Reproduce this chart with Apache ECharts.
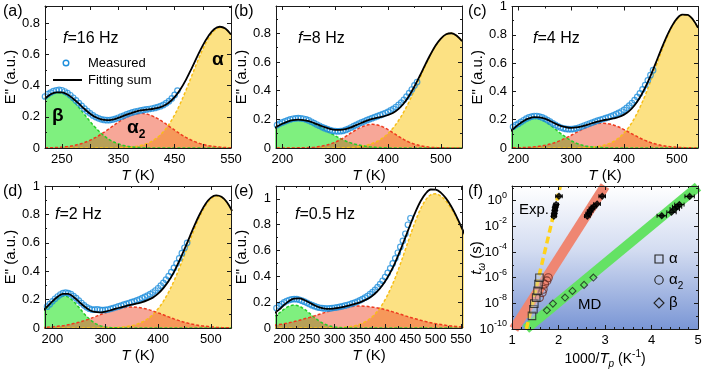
<!DOCTYPE html>
<html lang="en">
<head>
<meta charset="UTF-8">
<title>Loss modulus fits and relaxation map</title>
<style>
  html, body { margin: 0; padding: 0; background: #fff; }
  #main { width: 706px; height: 374px; }
</style>
</head>
<body>
<div id="main"></div>
<script src="https://cdn.jsdelivr.net/npm/echarts@6/dist/echarts.min.js"></script>
<script>
// ---------- panel (a) f=16 Hz ----------
var tA = [220,230,240,250,260,270,280,290,300,310,320,330,340,350,360,370,380,390,400,410,420,430,440,450,460,470,480,490,500,510,520,530,540,550];
var betaA = [0.315,0.342,0.354,0.351,0.333,0.301,0.260,0.215,0.170,0.129,0.093,0.064,0.042,0.027,0.016,0.009,0.005,0.003,0.001,0,0,0,0,0,0,0,0,0,0,0,0,0,0,0];
var alpha2A = [0.001,0.002,0.003,0.006,0.010,0.015,0.024,0.035,0.050,0.068,0.090,0.114,0.140,0.165,0.188,0.206,0.218,0.222,0.218,0.206,0.188,0.165,0.140,0.114,0.090,0.068,0.050,0.035,0.024,0.015,0.010,0.006,0.003,0.002];
var alphaA = [0,0,0,0,0,0,0,0,0,0,0,0,0,0.001,0.003,0.005,0.009,0.016,0.027,0.044,0.069,0.104,0.152,0.212,0.285,0.369,0.459,0.550,0.634,0.703,0.751,0.771,0.763,0.725];
var sumA = [0.316,0.344,0.357,0.357,0.343,0.316,0.284,0.250,0.220,0.197,0.183,0.178,0.182,0.193,0.207,0.220,0.232,0.241,0.246,0.250,0.257,0.269,0.292,0.326,0.375,0.437,0.509,0.585,0.658,0.718,0.761,0.777,0.766,0.727];
var mtA = [220,225,230,235,240,245,250,255,260,265,270,275,280,285,290,295,300,305,310,315,320,325,330,335,340,345,350,355,360,365,370,375,380,385,390,395,400,405,410,415,420,425,430,435,440,445,450,455];
var measA = [0.33,0.345,0.355,0.365,0.37,0.372,0.37,0.362,0.352,0.338,0.322,0.305,0.288,0.27,0.252,0.236,0.222,0.209,0.198,0.19,0.184,0.18,0.178,0.179,0.182,0.187,0.194,0.201,0.208,0.215,0.222,0.228,0.233,0.237,0.241,0.244,0.247,0.25,0.253,0.257,0.262,0.268,0.276,0.287,0.3,0.318,0.34,0.368];
var tickLabelsA = [250, 350, 450, 550];

// ---------- panels (b), (c), (d) share the temperature grid ----------
var tBCD = [180,190,200,210,220,230,240,250,260,270,280,290,300,310,320,330,340,350,360,370,380,390,400,410,420,430,440,450,460,470,480,490,500,510,520,530,540];
var mtBCD = [190,195,200,205,210,215,220,225,230,235,240,245,250,255,260,265,270,275,280,285,290,295,300,305,310,315,320,325,330,335,340,345,350,355,360,365,370,375,380,385,390,395,400,405,410,415,420,425,430,435,440,445,450,455];

// (b) f=8 Hz
var betaB = [0.128,0.150,0.169,0.184,0.194,0.197,0.194,0.184,0.169,0.150,0.128,0.106,0.085,0.066,0.049,0.035,0.025,0.017,0.011,0.007,0.004,0.002,0.001,0,0,0,0,0,0,0,0,0,0,0,0,0,0];
var alpha2B = [0,0,0,0,0,0.001,0.001,0.003,0.005,0.010,0.017,0.027,0.041,0.059,0.081,0.105,0.128,0.147,0.160,0.165,0.160,0.147,0.128,0.105,0.081,0.059,0.041,0.027,0.017,0.010,0.005,0.003,0.001,0.001,0,0,0];
var alphaB = [0,0,0,0,0,0,0,0,0,0,0,0,0,0.001,0.002,0.004,0.007,0.012,0.020,0.031,0.047,0.070,0.101,0.141,0.192,0.253,0.324,0.402,0.485,0.568,0.645,0.712,0.762,0.792,0.800,0.783,0.745];
var sumB = [0.128,0.150,0.169,0.184,0.194,0.198,0.195,0.187,0.174,0.160,0.145,0.133,0.126,0.126,0.132,0.144,0.160,0.176,0.191,0.203,0.211,0.219,0.230,0.246,0.273,0.312,0.365,0.429,0.502,0.578,0.650,0.715,0.763,0.793,0.800,0.783,0.745];
var measB = [0.16,0.17,0.178,0.186,0.193,0.199,0.204,0.207,0.208,0.207,0.204,0.199,0.192,0.183,0.174,0.164,0.155,0.146,0.138,0.131,0.125,0.12,0.117,0.116,0.117,0.12,0.126,0.134,0.143,0.152,0.161,0.17,0.178,0.186,0.194,0.201,0.208,0.215,0.222,0.229,0.236,0.244,0.252,0.262,0.273,0.286,0.3,0.317,0.336,0.358,0.382,0.408,0.436,0.46];

// (c) f=4 Hz
var betaC = [0.103,0.133,0.163,0.188,0.204,0.210,0.204,0.188,0.163,0.133,0.103,0.076,0.052,0.034,0.021,0.012,0.007,0.004,0.002,0.001,0,0,0,0,0,0,0,0,0,0,0,0,0,0,0,0,0];
var alpha2C = [0,0.001,0.002,0.003,0.005,0.008,0.012,0.019,0.028,0.039,0.054,0.071,0.090,0.110,0.130,0.148,0.163,0.172,0.175,0.172,0.163,0.148,0.130,0.110,0.090,0.071,0.054,0.039,0.028,0.019,0.012,0.008,0.005,0.003,0.002,0.001,0];
var alphaC = [0,0,0,0,0,0,0,0,0,0,0,0,0,0.001,0.002,0.003,0.006,0.010,0.018,0.029,0.046,0.071,0.106,0.152,0.212,0.286,0.372,0.469,0.572,0.675,0.770,0.850,0.909,0.939,0.939,0.909,0.850];
var sumC = [0.103,0.134,0.165,0.191,0.209,0.218,0.216,0.207,0.191,0.172,0.157,0.147,0.142,0.145,0.153,0.163,0.176,0.186,0.195,0.202,0.209,0.219,0.236,0.262,0.302,0.357,0.426,0.508,0.600,0.694,0.782,0.858,0.914,0.942,0.941,0.910,0.850];
var measC = [0.15,0.162,0.172,0.184,0.196,0.207,0.216,0.222,0.226,0.226,0.222,0.216,0.207,0.197,0.186,0.174,0.163,0.153,0.145,0.139,0.135,0.133,0.133,0.135,0.139,0.145,0.152,0.159,0.166,0.173,0.18,0.187,0.193,0.199,0.205,0.211,0.217,0.224,0.231,0.239,0.248,0.258,0.27,0.284,0.3,0.318,0.338,0.361,0.386,0.414,0.445,0.478,0.515,0.55];

// (d) f=2 Hz
var betaD = [0.110,0.145,0.180,0.208,0.225,0.217,0.188,0.146,0.101,0.063,0.035,0.017,0.008,0.003,0.001,0,0,0,0,0,0,0,0,0,0,0,0,0,0,0,0,0,0,0,0,0,0];
var alpha2D = [0.003,0.005,0.008,0.012,0.016,0.023,0.031,0.040,0.052,0.064,0.078,0.093,0.107,0.120,0.132,0.140,0.146,0.148,0.146,0.140,0.132,0.120,0.107,0.093,0.078,0.064,0.052,0.040,0.031,0.023,0.016,0.012,0.008,0.005,0.003,0.002,0.001];
var alphaD = [0,0,0,0,0,0,0,0,0,0,0,0,0.001,0.002,0.003,0.006,0.010,0.016,0.027,0.042,0.064,0.094,0.135,0.188,0.253,0.330,0.419,0.515,0.613,0.709,0.794,0.863,0.910,0.929,0.921,0.885,0.824];
var sumD = [0.113,0.150,0.188,0.220,0.241,0.240,0.219,0.186,0.153,0.127,0.113,0.110,0.116,0.125,0.136,0.146,0.156,0.164,0.173,0.182,0.196,0.214,0.242,0.281,0.331,0.394,0.471,0.555,0.644,0.732,0.810,0.875,0.918,0.934,0.924,0.887,0.825];
var measD = [0.15,0.168,0.188,0.206,0.222,0.236,0.245,0.249,0.246,0.238,0.225,0.21,0.193,0.176,0.16,0.146,0.136,0.13,0.13,0.132,0.128,0.126,0.127,0.13,0.135,0.14,0.146,0.152,0.158,0.164,0.17,0.176,0.182,0.188,0.195,0.202,0.21,0.219,0.228,0.238,0.25,0.264,0.28,0.298,0.318,0.34,0.365,0.393,0.423,0.455,0.49,0.527,0.565,0.6];

// ---------- panel (e) f=0.5 Hz ----------
var tE = [180,190,200,210,220,230,240,250,260,270,280,290,300,310,320,330,340,350,360,370,380,390,400,410,420,430,440,450,460,470,480,490,500,510,520,530,540,550,560];
var betaE = [0.090,0.115,0.146,0.169,0.178,0.169,0.146,0.115,0.082,0.053,0.031,0.016,0.008,0.003,0.001,0,0,0,0,0,0,0,0,0,0,0,0,0,0,0,0,0,0,0,0,0,0,0,0];
var alpha2E = [0.021,0.027,0.033,0.041,0.050,0.060,0.071,0.082,0.094,0.107,0.119,0.131,0.142,0.151,0.159,0.165,0.169,0.170,0.169,0.165,0.159,0.151,0.142,0.131,0.119,0.107,0.094,0.082,0.071,0.060,0.050,0.041,0.033,0.027,0.021,0.016,0.012,0.009,0.007];
var alphaE = [0,0,0,0,0,0,0,0,0,0,0,0.001,0.002,0.003,0.006,0.010,0.018,0.029,0.047,0.072,0.108,0.157,0.220,0.298,0.390,0.495,0.608,0.722,0.829,0.922,0.991,1.032,1.039,1.022,0.985,0.931,0.861,0.781,0.694];
var sumE = [0.111,0.142,0.179,0.210,0.228,0.229,0.217,0.197,0.176,0.160,0.150,0.148,0.152,0.157,0.166,0.175,0.187,0.199,0.216,0.237,0.267,0.308,0.362,0.429,0.509,0.602,0.702,0.804,0.900,0.982,1.041,1.073,1.072,1.049,1.006,0.947,0.873,0.790,0.701];
var mtE = [185,190,195,200,205,210,215,220,225,230,235,240,245,250,255,260,265,270,275,280,285,290,295,300,305,310,315,320,325,330,335,340,345,350,355,360,365,370,375,380,385,390,395,400,405,410,415,420,425,430,435,440,445,450];
var measE = [0.155,0.17,0.185,0.198,0.209,0.217,0.222,0.224,0.223,0.219,0.212,0.204,0.195,0.186,0.177,0.169,0.162,0.157,0.154,0.152,0.151,0.152,0.154,0.157,0.16,0.164,0.168,0.173,0.178,0.184,0.19,0.197,0.205,0.214,0.224,0.235,0.248,0.262,0.278,0.296,0.317,0.34,0.366,0.395,0.427,0.462,0.5,0.54,0.583,0.628,0.675,0.73,0.8,0.85];

// ---------- panel (f): 1000/Tp vs log10(t) ----------
var redBandX = [1.04, 3.0];      var redBandY = [-10, 1.15];
var greenBandX = [1.3, 5.0];     var greenBandY = [-10, 1.1];
var yellowLineX = [1.31, 2.04];  var yellowLineY = [-10, 1.15];

var expAlphaX = [1.90, 1.91, 1.92, 1.93, 1.95, 2.01];
var expAlphaY = [-1.2, -1.0, -0.75, -0.5, -0.3, 0.35];
var expAlphaErr = [0.05, 0.05, 0.05, 0.05, 0.05, 0.07];
var expAlpha2X = [2.62, 2.65, 2.68, 2.72, 2.76, 2.83, 2.94];
var expAlpha2Y = [-1.2, -1.0, -0.8, -0.6, -0.45, -0.25, 0.35];
var expAlpha2Err = [0.06, 0.06, 0.06, 0.06, 0.06, 0.07, 0.07];
var expBetaX = [4.22, 4.43, 4.50, 4.55, 4.60, 4.82];
var expBetaY = [-1.17, -0.9, -0.65, -0.47, -0.3, 0.34];
var expBetaErr = [0.1, 0.1, 0.1, 0.1, 0.1, 0.1];

var mdAlphaX = [1.43, 1.46, 1.48, 1.52, 1.55, 1.57, 1.59];
var mdAlphaY = [-8.98, -8.46, -8.02, -7.55, -7.03, -6.5, -6.0];
var mdAlpha2X = [1.59, 1.65, 1.67, 1.70, 1.75, 1.78];
var mdAlpha2Y = [-7.55, -7.16, -6.9, -6.5, -6.25, -6.0];
var mdBetaX = [1.75, 1.88, 2.14, 2.30, 2.55, 2.75];
var mdBetaY = [-8.54, -8.02, -7.55, -7.03, -6.56, -5.99];

var freqLabels = ['16', '8', '4', '2', '0.5'];

// ---------- styling ----------
var FONT = '"Liberation Sans", Arial, sans-serif';
var INK = '#1a1a1a';
var BLUE = '#1f8fdc';

function zip(xs, ys) { return xs.map(function (x, k) { return [x, ys[k]]; }); }
function zip3(xs, ys, es) { return xs.map(function (x, k) { return [x, ys[k], es[k]]; }); }

var panels = [
  {left: 45,  top: 6,   xMin: 220, xMax: 550, xIv: 50,  xLabels: tickLabelsA, yMax: 0.91, t: tA,   beta: betaA, a2: alpha2A, alpha: alphaA, fit: sumA, mt: mtA,   meas: measA},
  {left: 276, top: 6,   xMin: 188, xMax: 540, xIv: 100, yMax: 0.99, t: tBCD, beta: betaB, a2: alpha2B, alpha: alphaB, fit: sumB, mt: mtBCD, meas: measB},
  {left: 512, top: 6,   xMin: 188, xMax: 540, xIv: 100, yMax: 1.0,  t: tBCD, beta: betaC, a2: alpha2C, alpha: alphaC, fit: sumC, mt: mtBCD, meas: measC},
  {left: 45,  top: 186, xMin: 186, xMax: 538, xIv: 100, yMax: 1.0,  t: tBCD, beta: betaD, a2: alpha2D, alpha: alphaD, fit: sumD, mt: mtBCD, meas: measD},
  {left: 276, top: 186, xMin: 184, xMax: 552, xIv: 50,  yMax: 1.1,  t: tE,   beta: betaE, a2: alpha2E, alpha: alphaE, fit: sumE, mt: mtE,   meas: measE}
];

var nameStyle = {
  color: '#000', fontSize: 15, fontFamily: FONT,
  rich: {
    i: {fontStyle: 'italic', fontSize: 15, fontFamily: FONT, color: '#000'},
    sub: {fontStyle: 'italic', fontSize: 10, fontFamily: FONT, color: '#000', verticalAlign: 'bottom', lineHeight: 20},
    sup: {fontSize: 10, fontFamily: FONT, color: '#000', verticalAlign: 'top', lineHeight: 20}
  }
};

function frameAxis(o) {
  return Object.assign({
    type: 'value',
    z: 10,
    splitLine: {show: false},
    axisLine: {show: true, onZero: false, lineStyle: {color: INK, width: 1}},
    axisTick: {show: true, inside: true, length: 4, lineStyle: {color: INK}},
    minorTick: {show: true, splitNumber: 2, length: 2, lineStyle: {color: INK}},
    axisLabel: {show: false}
  }, o);
}

function tickLabel(showMin, showMax, extra) {
  return Object.assign({
    show: true, color: '#000', fontSize: 13, fontFamily: FONT, margin: 5,
    showMinLabel: showMin, showMaxLabel: showMax
  }, extra || {});
}

var grids = [], xAxes = [], yAxes = [], series = [];

panels.forEach(function (p, i) {
  grids.push({left: p.left, top: p.top, width: 186, height: 142});
  var xr = {gridIndex: i, min: p.xMin, max: p.xMax, minInterval: p.xIv, maxInterval: p.xIv};
  if (p.xLabels) xr.minorTick = {show: false};
  var yr = {gridIndex: i, min: 0, max: p.yMax, minInterval: 0.2, maxInterval: 0.2};
  var xl = p.xLabels
    ? tickLabel(false, true, {formatter: function (v) { return p.xLabels.indexOf(v) >= 0 ? String(v) : ''; }})
    : tickLabel(p.xMin % p.xIv === 0, p.xMax % p.xIv === 0);
  xAxes.push(frameAxis(Object.assign({
    position: 'bottom', axisLabel: xl,
    name: '{i|T} (K)', nameLocation: 'middle', nameGap: 20, nameTextStyle: nameStyle
  }, xr)));
  xAxes.push(frameAxis(Object.assign({position: 'top'}, xr)));
  yAxes.push(frameAxis(Object.assign({
    position: 'left',
    axisLabel: tickLabel(true, Math.abs(p.yMax / 0.2 - Math.round(p.yMax / 0.2)) < 1e-6),
    name: 'E" (a.u.)', nameLocation: 'middle', nameGap: 25, nameTextStyle: nameStyle
  }, yr)));
  yAxes.push(frameAxis(Object.assign({position: 'right'}, yr)));

  var ax = {xAxisIndex: 2 * i, yAxisIndex: 2 * i};
  function peak(vals, line, fill, op) {
    return Object.assign({
      type: 'line', data: zip(p.t, vals), smooth: 0.35, symbol: 'none', silent: true, z: 3,
      lineStyle: {color: line, width: 1.5, type: [3, 2]},
      areaStyle: {color: fill, opacity: op}
    }, ax);
  }
  series.push(peak(p.alpha, '#f7be17', 'rgb(250,200,30)', 0.55));
  series.push(peak(p.beta, '#28cc28', 'rgb(0,225,0)', 0.5));
  series.push(peak(p.a2, '#ee3a1e', 'rgb(240,80,50)', 0.5));
  series.push(Object.assign({
    type: 'scatter', data: zip(p.mt, p.meas), symbol: 'circle', symbolSize: 5.5, silent: true, z: 4,
    itemStyle: {color: 'rgba(255,255,255,0)', borderColor: BLUE, borderWidth: 1.2}
  }, ax));
  series.push(Object.assign({
    type: 'line', data: zip(p.t, p.fit), smooth: 0.35, symbol: 'none', silent: true, z: 5,
    lineStyle: {color: '#000', width: 1.8}
  }, ax));
});

// panel (f)
grids.push({
  left: 512, top: 186, width: 186, height: 143, show: true, borderWidth: 0,
  backgroundColor: {type: 'linear', x: 0, y: 0, x2: 0, y2: 1,
    colorStops: [{offset: 0, color: '#ffffff'}, {offset: 0.45, color: '#d3dcf1'}, {offset: 1, color: '#7a96d5'}]}
});
var fx = {gridIndex: 5, min: 1, max: 5, minInterval: 1, maxInterval: 1, minorTick: {show: true, splitNumber: 5, length: 2, lineStyle: {color: INK}}};
var fy = {gridIndex: 5, min: -10, max: 1.15, minInterval: 2, maxInterval: 2};
xAxes.push(frameAxis(Object.assign({
  position: 'bottom', axisLabel: tickLabel(true, true),
  name: '1000/{i|T}{sub|p} (K{sup|-1})', nameLocation: 'middle', nameGap: 20,
  nameTextStyle: Object.assign({}, nameStyle, {fontSize: 14})
}, fx)));
xAxes.push(frameAxis(Object.assign({position: 'top'}, fx)));
yAxes.push(frameAxis(Object.assign({
  position: 'left',
  axisLabel: tickLabel(true, false, {
    formatter: function (v) {
      var r = Math.round(v);
      if (Math.abs(v - r) > 1e-6 || r % 2 !== 0) return '';
      return '10{s|' + r + '}';
    },
    rich: {s: {fontSize: 9, fontFamily: FONT, color: '#000', verticalAlign: 'top', lineHeight: 20}}
  })
}, fy)));
yAxes.push(frameAxis(Object.assign({position: 'right'}, fy)));

var fax = {xAxisIndex: 10, yAxisIndex: 10};
function band(xs, ys, color, width, type) {
  return Object.assign({
    type: 'line', data: zip(xs, ys), symbol: 'none', silent: true, z: 2,
    lineStyle: {color: color, width: width, type: type || 'solid', cap: 'butt'}
  }, fax);
}
series.push(band(redBandX, redBandY, '#ef8672', 10));
series.push(band(greenBandX, greenBandY, '#64e264', 10));
series.push(band(yellowLineX, yellowLineY, '#ffd21a', 3.5, [7, 4]));

function errBars(xs, ys, es) {
  return Object.assign({
    type: 'custom', data: zip3(xs, ys, es), silent: true, z: 6, encode: {x: 0, y: 1},
    renderItem: function (params, api) {
      var x = api.value(0), y = api.value(1), e = api.value(2);
      var a = api.coord([x - e, y]), b = api.coord([x + e, y]);
      var st = {stroke: '#000', lineWidth: 1};
      return {type: 'group', children: [
        {type: 'line', shape: {x1: a[0], y1: a[1], x2: b[0], y2: b[1]}, style: st},
        {type: 'line', shape: {x1: a[0], y1: a[1] - 2, x2: a[0], y2: a[1] + 2}, style: st},
        {type: 'line', shape: {x1: b[0], y1: b[1] - 2, x2: b[0], y2: b[1] + 2}, style: st}
      ]};
    }
  }, fax);
}
function pts(xs, ys, symbol, size, fill, stroke, z) {
  return Object.assign({
    type: 'scatter', data: zip(xs, ys), symbol: symbol, symbolSize: size, silent: true, z: z || 7,
    itemStyle: {color: fill, borderColor: stroke, borderWidth: 1.1}
  }, fax);
}
series.push(errBars(expAlphaX, expAlphaY, expAlphaErr));
series.push(errBars(expAlpha2X, expAlpha2Y, expAlpha2Err));
series.push(errBars(expBetaX, expBetaY, expBetaErr));
series.push(pts(expAlphaX, expAlphaY, 'diamond', 6, '#000', '#000'));
series.push(pts(expAlpha2X, expAlpha2Y, 'diamond', 6, '#000', '#000'));
series.push(pts(expBetaX, expBetaY, 'diamond', 6, '#000', '#000'));
series.push(pts(mdBetaX, mdBetaY, 'diamond', 7, 'rgba(0,0,0,0)', '#1d2b1d'));
series.push(pts(mdAlpha2X, mdAlpha2Y, 'circle', 8, 'rgba(0,0,0,0)', '#6b2a22'));
series.push(pts(mdAlphaX, mdAlphaY, 'rect', 7.5, 'rgba(200,208,222,0.45)', '#222', 8));

// ---------- annotations ----------
var g = [];
function label(x, y, text, size, extra, rotation) {
  g.push({type: 'text', x: x, y: y, rotation: rotation || 0, z: 100, silent: true, style: Object.assign({
    text: text, fill: '#000', fontSize: size, fontFamily: FONT, align: 'left', verticalAlign: 'middle'
  }, extra || {})});
}
['(a)', '(b)', '(c)', '(d)', '(e)', '(f)'].forEach(function (s, k) {
  label([3, 234, 468][k % 3], k < 3 ? 12 : 192, s, 16);
});
var fPos = [[63, 39], [298, 39], [533, 39], [55, 215], [295, 215]];
freqLabels.forEach(function (f, k) {
  label(fPos[k][0], fPos[k][1], '{i|f}=' + f + ' Hz', 16, {
    rich: {i: {fontStyle: 'italic', fontSize: 16, fontFamily: FONT, fill: '#000'}}
  });
});
// legend of (a)
g.push({type: 'circle', z: 100, silent: true, shape: {cx: 66, cy: 63, r: 2.8}, style: {fill: 'none', stroke: BLUE, lineWidth: 1.4}});
label(88, 63, 'Measured', 13);
g.push({type: 'line', z: 100, silent: true, shape: {x1: 53, y1: 80, x2: 82, y2: 80}, style: {stroke: '#000', lineWidth: 2}});
label(88, 80, 'Fitting sum', 13);
// peak names in (a)
var greekRich = {
  g: {fontSize: 19, fontWeight: 'bold', fontFamily: FONT, fill: '#000'},
  s: {fontSize: 12, fontWeight: 'bold', fontFamily: FONT, fill: '#000', verticalAlign: 'bottom', lineHeight: 26}
};
label(52, 116, '{g|\u03b2}', 19, {rich: greekRich});
label(127, 128, '{g|\u03b1}{s|2}', 19, {rich: greekRich});
label(212, 60, '{g|\u03b1}', 19, {rich: greekRich});
// texts, axis title and legend of (f)
label(477, 258, '{i|t}{sub|\u03c9} (s)', 15, {
  align: 'center',
  rich: {
    i: {fontStyle: 'italic', fontSize: 15, fontFamily: FONT, fill: '#000'},
    sub: {fontStyle: 'italic', fontSize: 10, fontFamily: FONT, fill: '#000', verticalAlign: 'bottom', lineHeight: 20}
  }
}, Math.PI / 2);
label(519, 210, 'Exp.', 15);
label(578, 305, 'MD', 15);
var legRich = {
  g: {fontSize: 15, fontFamily: FONT, fill: '#000'},
  s: {fontSize: 10, fontFamily: FONT, fill: '#000', verticalAlign: 'bottom', lineHeight: 22}
};
g.push({type: 'rect', z: 100, silent: true, shape: {x: 655, y: 255, width: 8, height: 8}, style: {fill: 'none', stroke: '#222', lineWidth: 1.1}});
label(669, 259, '{g|\u03b1}', 15, {rich: legRich});
g.push({type: 'circle', z: 100, silent: true, shape: {cx: 659, cy: 280, r: 4.2}, style: {fill: 'none', stroke: '#222', lineWidth: 1.1}});
label(669, 280, '{g|\u03b1}{s|2}', 15, {rich: legRich});
g.push({type: 'polygon', z: 100, silent: true, shape: {points: [[659, 298], [664, 303], [659, 308], [654, 303]]}, style: {fill: 'none', stroke: '#222', lineWidth: 1.1}});
label(669, 303, '{g|\u03b2}', 15, {rich: legRich});

var chart = echarts.init(document.getElementById('main'));
chart.setOption({
  animation: false,
  backgroundColor: '#fff',
  grid: grids,
  xAxis: xAxes,
  yAxis: yAxes,
  series: series,
  graphic: g
});
</script>
</body>
</html>
